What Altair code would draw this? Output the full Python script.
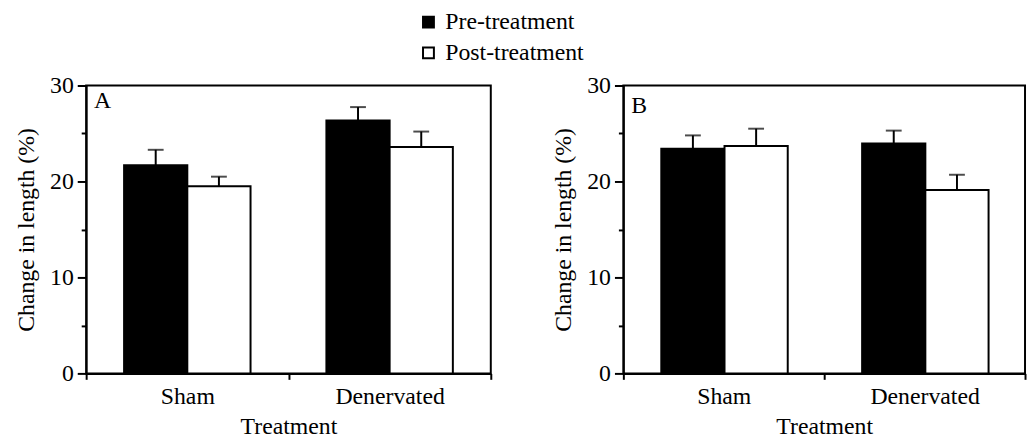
import altair as alt
import pandas as pd

treatments = ["Sham", "Sham", "Denervated", "Denervated"]
phases = ["Pre-treatment", "Post-treatment", "Pre-treatment", "Post-treatment"]
panel_a_means = [21.7, 19.5, 26.35, 23.6]
panel_a_errs = [1.6, 1.0, 1.4, 1.6]
panel_b_means = [23.4, 23.7, 23.95, 19.1]
panel_b_errs = [1.4, 1.8, 1.35, 1.6]
categories = ["Sham", "Denervated"]
phase_order = ["Pre-treatment", "Post-treatment"]
phase_colors = ["black", "white"]
y_tick_values = [0, 5, 10, 15, 20, 25, 30]

FONT = "Liberation Serif"
FS = 24


def make_df(means, errs):
    df = pd.DataFrame({"treatment": treatments, "phase": phases,
                       "mean": means, "err": errs})
    df["upper"] = df["mean"] + df["err"]
    return df


def panel(means, errs, letter, show_legend, width, letter_dy):
    df = make_df(means, errs)
    base = alt.Chart(df)
    x = alt.X("treatment:N", sort=categories, title="Treatment",
              scale=alt.Scale(paddingInner=0, paddingOuter=0),
              axis=alt.Axis(labelAngle=0, tickBand="extent", tickSize=6,
                            labelPadding=5, titlePadding=7))
    xoff = alt.XOffset("phase:N", sort=phase_order,
                       scale=alt.Scale(paddingInner=0, paddingOuter=0.6))
    y = alt.Y("mean:Q", title="Change in length (%)",
              scale=alt.Scale(domain=[0, 30], nice=False),
              axis=alt.Axis(values=y_tick_values,
                            labelExpr="datum.value % 10 === 0 ? datum.label : ''",
                            tickSize={"condition": {"test": "datum.value % 10 === 0", "value": 9},
                                      "value": 5},
                            labelPadding=4, titlePadding=11))
    legend = None
    if show_legend:
        legend = alt.Legend(orient="none", legendX=334, legendY=-76, title=None,
                            symbolType="square", symbolSize=121,
                            symbolStrokeColor="black", symbolStrokeWidth=2,
                            labelFont=FONT, labelFontSize=FS, labelColor="black",
                            rowPadding=7, labelOffset=5)
    bars = base.mark_bar(stroke="black", strokeWidth=2).encode(
        x=x, xOffset=xoff, y=y,
        fill=alt.Fill("phase:N", sort=phase_order,
                      scale=alt.Scale(domain=phase_order, range=phase_colors),
                      legend=legend))
    rules = base.mark_rule(color="black", strokeWidth=2).encode(
        x=x, xOffset=xoff, y="mean:Q", y2="upper:Q")
    caps = base.mark_tick(color="black", thickness=2, size=16, orient="horizontal").encode(
        x=x, xOffset=xoff, y="upper:Q")
    lab = alt.Chart(pd.DataFrame({"label": [letter]})).mark_text(
        font=FONT, fontSize=FS, align="left", baseline="top", color="black").encode(
        x=alt.value(8), y=alt.value(letter_dy), text="label:N")
    return alt.layer(bars, rules, caps, lab).properties(width=width, height=291)


chart = alt.hconcat(
    panel(panel_a_means, panel_a_errs, "A", True, 409, 4),
    panel(panel_b_means, panel_b_errs, "B", False, 406, 9),
    spacing=59,
).properties(
    padding={"left": 6, "top": 0, "right": 0, "bottom": 0}
).configure_view(
    stroke="black", strokeWidth=2
).configure_axis(
    labelFont=FONT, labelFontSize=FS, labelColor="black",
    titleFont=FONT, titleFontSize=FS, titleFontWeight="normal", titleColor="black",
    domainColor="black", domainWidth=2, tickColor="black", tickWidth=2, grid=False
)

chart.save("out.html", embed_options={"renderer": "svg", "actions": False})
